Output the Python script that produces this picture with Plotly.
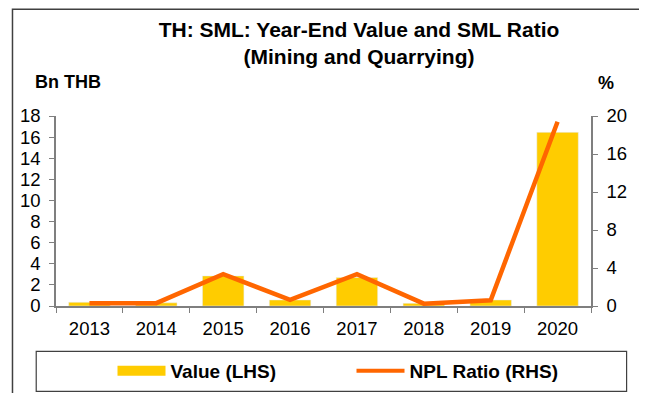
import plotly.graph_objects as go

years = ["2013", "2014", "2015", "2016", "2017", "2018", "2019", "2020"]
value_bn_thb = [0.35, 0.3, 2.85, 0.57, 2.7, 0.25, 0.57, 16.45]
npl_ratio = [0.3, 0.3, 3.35, 0.65, 3.35, 0.25, 0.6, 19.4]

bar_color = "#FFCC00"
line_color = "#FF6600"
axis_color = "#7F7F7F"
font_family = "Liberation Sans, Arial, sans-serif"

# the page body has an 8px margin, so the figure is a bit smaller than the window
OFF = 8
W, H = 647 - 2 * OFF, 401 - 2 * OFF
# plot area in window pixels
PX0, PX1, PY0, PY1 = 53, 594, 115.7, 305.7
L, R = PX0 - OFF, W - (PX1 - OFF)
T, B = PY0 - OFF, H - (PY1 - OFF)
pw, ph = PX1 - PX0, PY1 - PY0


def px_x(p):
    return (p - PX0) / pw


def px_y(p):
    return (PY1 - p) / ph


fig = go.Figure()
fig.add_trace(go.Bar(x=years, y=value_bn_thb, marker_color=bar_color,
                     name="Value (LHS)", showlegend=False, yaxis="y"))
fig.add_trace(go.Scatter(x=years, y=npl_ratio, mode="lines",
                         line=dict(color=line_color, width=4.5),
                         name="NPL Ratio (RHS)", showlegend=False, yaxis="y2"))
# legend-only entries so the swatches look like the original
fig.add_trace(go.Scatter(x=[None], y=[None], mode="lines",
                         line=dict(color=bar_color, width=10), name="Value (LHS)"))
fig.add_trace(go.Scatter(x=[None], y=[None], mode="lines",
                         line=dict(color=line_color, width=4), name="NPL Ratio (RHS)"))

fig.update_layout(
    width=W, height=H,
    margin=dict(l=L, r=R, t=T, b=B),
    paper_bgcolor="white", plot_bgcolor="white",
    font=dict(family=font_family, size=18.5, color="black"),
    bargap=0.38,
    title=dict(text="<b>TH: SML: Year-End Value and SML Ratio<br>(Mining and Quarrying)</b>",
               x=(359 - OFF) / W, xanchor="center", xref="container",
               y=1 - 29 / H, yanchor="top", yref="container",
               font=dict(size=21, family=font_family)),
    xaxis=dict(showline=True, linecolor=axis_color, linewidth=1.5,
               ticks="outside", tickson="boundaries", ticklen=5, tickcolor=axis_color,
               showgrid=False, ticklabelstandoff=5),
    yaxis=dict(range=[0, 18], dtick=2, showline=True, linecolor=axis_color, linewidth=1.5,
               ticks="outside", ticklen=5, tickcolor=axis_color, showgrid=False,
               zeroline=False, ticklabelstandoff=5),
    yaxis2=dict(range=[0, 20], dtick=4, overlaying="y", side="right", showline=True,
                linecolor=axis_color, linewidth=1.5, ticks="outside", ticklen=5,
                tickcolor=axis_color, showgrid=False, zeroline=False, ticklabelstandoff=5),
    legend=dict(orientation="h", xref="container", yref="container",
                x=(351.5 - OFF) / W, xanchor="center", y=1 - (371 - OFF) / H, yanchor="middle",
                itemwidth=48, entrywidth=176, entrywidthmode="pixels",
                font=dict(size=19, family=font_family, weight="bold"), borderwidth=0,
                bgcolor="rgba(0,0,0,0)"),
    showlegend=True,
)

# outer frame and legend box
fig.add_shape(type="rect", xref="paper", yref="paper",
              x0=px_x(9), x1=px_x(700), y0=px_y(460), y1=px_y(9),
              line=dict(color="#404040", width=1.5), layer="below")
fig.add_shape(type="rect", xref="paper", yref="paper",
              x0=px_x(33), x1=px_x(630), y0=px_y(391), y1=px_y(351),
              line=dict(color="#404040", width=1.2), layer="below")

fig.add_annotation(text="<b>Bn THB</b>", xref="paper", yref="paper",
                   x=px_x(30), y=px_y(82), xanchor="left", yanchor="middle",
                   showarrow=False, font=dict(size=18, family=font_family))
fig.add_annotation(text="<b>%</b>", xref="paper", yref="paper",
                   x=px_x(609), y=px_y(83), xanchor="center", yanchor="middle",
                   showarrow=False, font=dict(size=18, family=font_family))

fig.write_html("out.html")
